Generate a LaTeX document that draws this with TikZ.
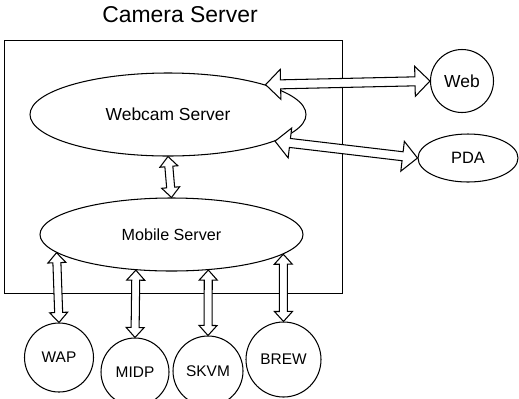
\documentclass[tikz,border=0pt]{standalone}
\usepackage{fontspec}
\setmainfont{Liberation Sans}
\usetikzlibrary{calc,shapes.geometric}
% block double arrow: #1 from, #2 to, #3 head length, #4 head half width, #5 shaft half width
\newcommand\blockarrow[5]{%
  \draw[blockarr] (#1)
    -- ($(#1)!#3!(#2)!#4!90:(#2)$)
    -- ($(#1)!#3!(#2)!#5!90:(#2)$)
    -- ($(#2)!#3!(#1)!#5!-90:(#1)$)
    -- ($(#2)!#3!(#1)!#4!-90:(#1)$)
    -- (#2)
    -- ($(#2)!#3!(#1)!#4!90:(#1)$)
    -- ($(#2)!#3!(#1)!#5!90:(#1)$)
    -- ($(#1)!#3!(#2)!#5!-90:(#2)$)
    -- ($(#1)!#3!(#2)!#4!-90:(#2)$)
    -- cycle;}
\tikzset{
  blockarr/.style={draw=black, fill=white, line width=1.05bp, line join=miter},
  shape line/.style={draw=black, line width=1.05bp},
  oval/.style={shape line, ellipse, inner sep=0pt},
  round/.style={shape line, circle, inner sep=0pt},
  boxline/.style={draw=black, line width=0.9bp},
}
\begin{document}
\begin{tikzpicture}[x=1bp, y=-1bp]
  \useasboundingbox (0,0) rectangle (519,398);
  \clip (0,0) rectangle (519,398);
  \node[font=\fontsize{23}{27}\selectfont] (title) at (180,15) {Camera Server};
  \node[boxline, minimum width=338bp, minimum height=253bp, inner sep=0pt] (box) at (173,166.5) {};
  \node[oval, minimum width=276bp, minimum height=83bp, font=\fontsize{17.5}{21}\selectfont] (webcam) at (168,114.5) {Webcam Server};
  \node[oval, minimum width=263bp, minimum height=73bp, font=\fontsize{16.2}{19}\selectfont] (mobile) at (171.5,234.5) {Mobile Server};
  \node[round, minimum size=63bp, font=\fontsize{17.5}{21}\selectfont] (web) at (462,81) {Web};
  \node[oval, minimum width=100bp, minimum height=48bp, font=\fontsize{16.5}{20}\selectfont] (pda) at (468,158) {PDA};
  \node[round, minimum size=69bp, font=\fontsize{15.5}{19}\selectfont] (wap) at (59,357.5) {WAP};
  \node[round, minimum size=68bp, font=\fontsize{15.5}{19}\selectfont] (midp) at (135,372) {MIDP};
  \node[round, minimum size=70bp, font=\fontsize{15.5}{19}\selectfont] (skvm) at (208,371) {SKVM};
  \node[round, minimum size=75bp, font=\fontsize{15.5}{19}\selectfont] (brew) at (283.5,359.5) {BREW};
  % connectors
  \blockarrow{webcam.17}{web.west}{15bp}{15bp}{4.5bp}
  \blockarrow{webcam.-14}{pda.west}{15bp}{15bp}{4.5bp}
  \blockarrow{webcam.south}{mobile.north}{10bp}{9bp}{4bp}
  \blockarrow{mobile.189}{wap.north}{10bp}{9bp}{4bp}
  \blockarrow{mobile.225}{midp.north}{10bp}{9bp}{4bp}
  \blockarrow{mobile.316}{skvm.north}{10bp}{9bp}{4bp}
  \blockarrow{mobile.350}{brew.north}{10bp}{9bp}{4bp}
\end{tikzpicture}
\end{document}
